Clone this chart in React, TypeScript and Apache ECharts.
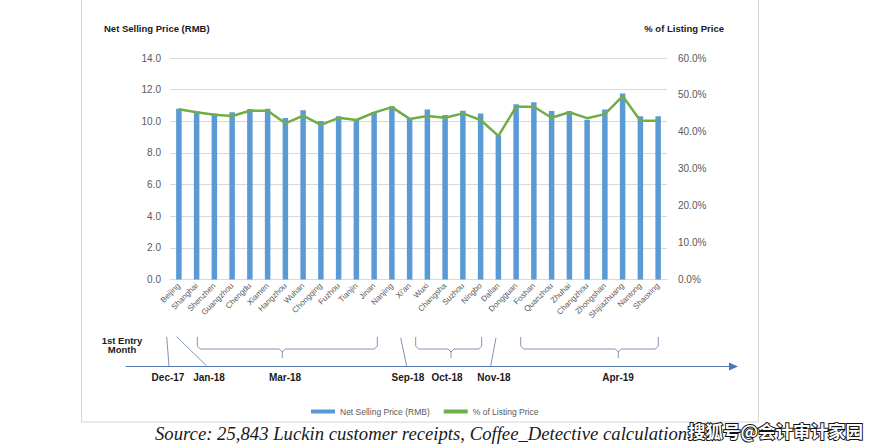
import React, { useEffect, useRef } from "react";
import * as echarts from "echarts";

const cities = [
  "Beijing", "Shanghai", "Shenzhen", "Guangzhou", "Chengdu", "Xiamen", "Hangzhou",
  "Wuhan", "Chongqing", "Fuzhou", "Tianjin", "Jinan", "Nanjing", "Xi'an", "Wuxi",
  "Changsha", "Suzhou", "Ningbo", "Dalian", "Dongguan", "Foshan", "Quanzhou",
  "Zhuhai", "Changzhou", "Zhongshan", "Shijiazhuang", "Nantong", "Shaoxing",
];
const netPrice = [
  10.8, 10.63, 10.5, 10.57, 10.78, 10.8, 10.21, 10.69, 10.02, 10.32, 10.11, 10.59,
  10.95, 10.17, 10.74, 10.4, 10.67, 10.49, 9.12, 11.07, 11.2, 10.65, 10.65, 10.1,
  10.74, 11.75, 10.32, 10.32,
];
const pctListing = [
  46.1, 45.3, 44.6, 44.3, 45.7, 45.7, 42.3, 44.4, 41.9, 43.8, 43.2, 45.2, 46.7,
  43.5, 44.3, 43.8, 45.0, 43.2, 38.9, 46.8, 46.8, 43.8, 45.3, 43.7, 44.8, 49.7,
  43.0, 43.0,
];
const entryMonths = ["Dec-17", "Jan-18", "Mar-18", "Sep-18", "Oct-18", "Nov-18", "Apr-19"];
const entryMonthX = [168, 209, 285, 408, 447, 494, 618];

const FONT = "Arial, 'Liberation Sans', sans-serif";
const TL_COLOR = "#5b7bb0";
const BR_COLOR = "#8494b0";

function brace(left: number, right: number, center: number) {
  const top = 337;
  const mid = 349;
  return [
    {
      type: "polyline",
      shape: { points: [[left, top], [left, mid - 3], [left + 3, mid], [center - 3, mid], [center, mid + 3], [center, mid + 9]] },
      style: { stroke: BR_COLOR, lineWidth: 1, fill: "none" },
      silent: true,
    },
    {
      type: "polyline",
      shape: { points: [[right, top], [right, mid - 3], [right - 3, mid], [center + 3, mid], [center, mid + 3]] },
      style: { stroke: BR_COLOR, lineWidth: 1, fill: "none" },
      silent: true,
    },
  ];
}

export default function App() {
  const ref = useRef<HTMLDivElement>(null);
  useEffect(() => {
    if (!ref.current) return;
    const chart = echarts.init(ref.current, null, { renderer: "svg" });
    const graphics: any[] = [
      {
        type: "rect",
        shape: { x: 81.5, y: -2, width: 677, height: 424 },
        style: { stroke: "#d6d6d6", fill: "none", lineWidth: 1 },
        z: -10,
        silent: true,
      },
      {
        type: "text",
        x: 104, y: 28,
        style: { text: "Net Selling Price (RMB)", font: `bold 9.5px ${FONT}`, fill: "#1a1a1a", textVerticalAlign: "middle" },
      },
      {
        type: "text",
        x: 724, y: 28,
        style: { text: "% of Listing Price", font: `bold 9.5px ${FONT}`, fill: "#1a1a1a", textAlign: "right", textVerticalAlign: "middle" },
      },
      {
        type: "text",
        x: 122, y: 340,
        style: { text: "1st Entry", font: `bold 9.5px ${FONT}`, fill: "#1a1a1a", textAlign: "center", textVerticalAlign: "middle" },
      },
      {
        type: "text",
        x: 122, y: 349.5,
        style: { text: "Month", font: `bold 9.5px ${FONT}`, fill: "#1a1a1a", textAlign: "center", textVerticalAlign: "middle" },
      },
      {
        type: "line",
        shape: { x1: 125.5, y1: 366.5, x2: 732, y2: 366.5 },
        style: { stroke: TL_COLOR, lineWidth: 1.2 },
      },
      {
        type: "polygon",
        shape: { points: [[729, 362.5], [738, 366.5], [729, 370.5]] },
        style: { fill: "#4a76b8" },
      },
      { type: "line", shape: { x1: 166.7, y1: 336.7, x2: 169, y2: 366 }, style: { stroke: BR_COLOR, lineWidth: 1 } },
      { type: "line", shape: { x1: 176.7, y1: 336.7, x2: 206.7, y2: 366 }, style: { stroke: BR_COLOR, lineWidth: 1 } },
      { type: "line", shape: { x1: 400.7, y1: 337.7, x2: 406.7, y2: 366 }, style: { stroke: BR_COLOR, lineWidth: 1 } },
      { type: "line", shape: { x1: 496, y1: 337.7, x2: 490.7, y2: 366 }, style: { stroke: BR_COLOR, lineWidth: 1 } },
      ...brace(197.3, 377.3, 282.3),
      ...brace(415.7, 481.7, 451),
      ...brace(520.7, 658.3, 618.3),
      ...entryMonths.map((m, i) => ({
        type: "text",
        x: entryMonthX[i], y: 377,
        style: { text: m, font: `bold 10px ${FONT}`, fill: "#1a1a1a", textAlign: "center", textVerticalAlign: "middle" },
      })),
      {
        type: "text",
        x: 155, y: 433,
        style: {
          text: "Source: 25,843 Luckin customer receipts, Coffee_Detective calculation",
          font: "italic 18.7px 'Liberation Serif', 'Times New Roman', serif",
          fill: "#1a1a1a",
          textVerticalAlign: "middle",
        },
      },
      {
        type: "text",
        x: 688, y: 430,
        z: 20,
        style: {
          text: "搜狐号@会计审计家园",
          font: "bold 17.5px 'Noto Sans CJK SC', sans-serif",
          fill: "#ffffff",
          stroke: "#111111",
          lineWidth: 2,
          textVerticalAlign: "middle",
        },
      },
    ];

    chart.setOption({
      animation: false,
      backgroundColor: "#ffffff",
      grid: { left: 170, right: 212, top: 58, bottom: 168.5, containLabel: false },
      legend: {
        left: 306,
        top: 402,
        itemGap: 14,
        itemWidth: 24,
        itemHeight: 4,
        textStyle: { fontFamily: FONT, fontSize: 8.5, color: "#595959" },
        data: [
          { name: "Net Selling Price (RMB)", icon: "rect" },
          { name: "% of Listing Price", icon: "rect" },
        ],
      },
      xAxis: {
        type: "category",
        data: cities,
        axisLine: { lineStyle: { color: "#d9d9d9" } },
        axisTick: { show: false },
        axisLabel: { rotate: 45, fontSize: 8, color: "#595959", fontFamily: FONT, margin: 5, interval: 0 },
      },
      yAxis: [
        {
          type: "value",
          min: 0, max: 14, interval: 2,
          axisLabel: { formatter: (v: number) => v.toFixed(1), fontSize: 10, color: "#595959", fontFamily: FONT, margin: 9 },
          splitLine: { lineStyle: { color: "#d9d9d9" } },
          axisLine: { show: false },
          axisTick: { show: false },
        },
        {
          type: "value",
          min: 0, max: 60, interval: 10,
          axisLabel: { formatter: (v: number) => v.toFixed(1) + "%", fontSize: 10, color: "#595959", fontFamily: FONT, margin: 11 },
          splitLine: { show: false },
          axisLine: { show: false },
          axisTick: { show: false },
        },
      ],
      series: [
        {
          name: "Net Selling Price (RMB)",
          type: "bar",
          data: netPrice,
          barWidth: 5.5,
          itemStyle: { color: "#5b9bd5" },
          yAxisIndex: 0,
        },
        {
          name: "% of Listing Price",
          type: "line",
          data: pctListing,
          yAxisIndex: 1,
          symbol: "none",
          lineStyle: { color: "#70ad47", width: 2.5 },
          itemStyle: { color: "#70ad47" },
          z: 5,
        },
      ],
      graphic: graphics,
    });
    return () => chart.dispose();
  }, []);
  return <div ref={ref} style={{ position: "fixed", left: 0, top: 0, width: 879, height: 448 }} />;
}
